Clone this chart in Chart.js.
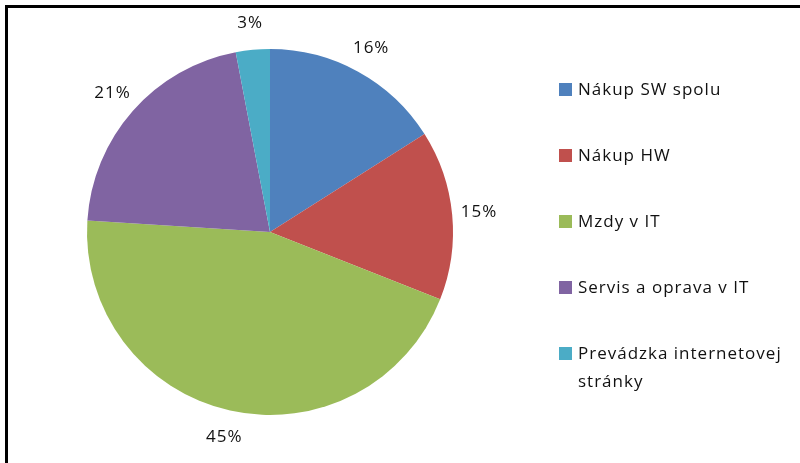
<!DOCTYPE html>
<html>
<head>
<meta charset="utf-8">
<script src="https://cdn.jsdelivr.net/npm/chart.js@4"></script>
<style>
  html, body { margin: 0; padding: 0; background: #fff; }
  #wrap { position: relative; width: 800px; height: 463px; overflow: hidden; }
  #frame { position: absolute; left: 5px; top: 5px; width: 900px; height: 600px; border-top: 3px solid #000; border-left: 3px solid #000; }
  canvas { position: absolute; left: 0; top: 0; }
</style>
</head>
<body>
<div id="wrap">
  <div id="frame"></div>
  <canvas id="pieChart" width="800" height="463"></canvas>
</div>
<script>
const categories = ["Nákup SW spolu", "Nákup HW", "Mzdy v IT", "Servis a oprava v IT", "Prevádzka internetovej stránky"];
const legendLines = [["Nákup SW spolu"], ["Nákup HW"], ["Mzdy v IT"], ["Servis a oprava v IT"], ["Prevádzka internetovej", "stránky"]];
const shares = [16, 15, 45, 21, 3];
const sliceColors = ['#4F81BD', '#C0504D', '#9BBB59', '#8064A2', '#4BACC6'];

const FONT = '"Open Sans", "Noto Sans", sans-serif';

// percentage labels outside each slice
const outsideLabels = {
  id: 'outsideLabels',
  afterDatasetsDraw(chart) {
    const ctx = chart.ctx;
    const meta = chart.getDatasetMeta(0);
    ctx.save();
    ctx.font = '17px ' + FONT;
    ctx.letterSpacing = '1px';
    ctx.fillStyle = '#111';
    ctx.textAlign = 'center';
    ctx.textBaseline = 'middle';
    meta.data.forEach((arc, i) => {
      const mid = (arc.startAngle + arc.endAngle) / 2;
      const r = arc.outerRadius + 27;
      ctx.fillText(shares[i] + '%', arc.x + Math.cos(mid) * r, arc.y + Math.sin(mid) * r);
    });
    ctx.restore();
  }
};

// legend drawn by hand so the last label can wrap
const sideLegend = {
  id: 'sideLegend',
  afterDraw(chart) {
    const ctx = chart.ctx;
    ctx.save();
    ctx.font = '17px ' + FONT;
    ctx.letterSpacing = '1px';
    ctx.textBaseline = 'middle';
    legendLines.forEach((lines, i) => {
      const y = 90 + i * 66;
      ctx.fillStyle = sliceColors[i];
      ctx.fillRect(559, y - 7, 13, 13);
      ctx.fillStyle = '#111';
      lines.forEach((t, j) => ctx.fillText(t, 578, y + j * 28));
    });
    ctx.restore();
  }
};

const pieCtx = document.getElementById("pieChart");
const pieChart = new Chart(pieCtx, {
  type: "pie",
  data: {
    labels: categories,
    datasets: [{
      data: shares,
      backgroundColor: sliceColors,
      borderWidth: 0
    }]
  },
  options: {
    responsive: false,
    animation: false,
    layout: { padding: { top: 49, bottom: 48, left: 87, right: 347 } },
    plugins: {
      legend: { display: false },
      tooltip: { enabled: false }
    }
  },
  plugins: [outsideLabels, sideLegend]
});
</script>
</body>
</html>
